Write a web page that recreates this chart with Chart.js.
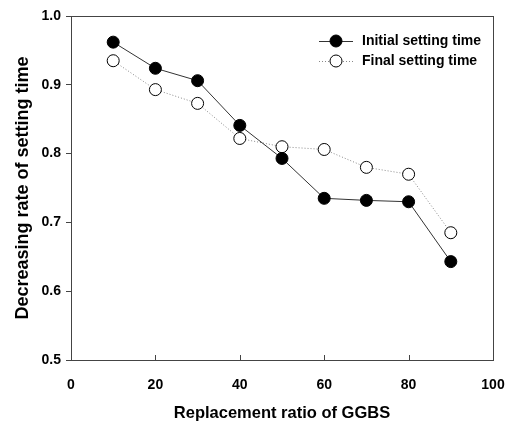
<!DOCTYPE html>
<html>
<head>
<meta charset="utf-8">
<script src="https://cdn.jsdelivr.net/npm/chart.js@4/dist/chart.umd.min.js"></script>
<style>
  html, body { margin: 0; padding: 0; background: #fff; }
  #wrap { width: 505px; height: 426px; position: relative; }
</style>
</head>
<body>
<div id="wrap"><canvas id="setChart"></canvas></div>
<script>
// data
const ratios = [10, 20, 30, 40, 50, 60, 70, 80, 90];
const initialTime = [0.962, 0.924, 0.906, 0.841, 0.793, 0.735, 0.732, 0.730, 0.643];
const finalTime = [0.935, 0.893, 0.873, 0.822, 0.810, 0.806, 0.780, 0.770, 0.685];
const xTicks = [0, 20, 40, 60, 80, 100];
const yTicks = [0.5, 0.6, 0.7, 0.8, 0.9, 1.0];

const FONT = '"Liberation Sans", Arial, sans-serif';

// frame on top/right, inward x ticks, and legend
const framePlugin = {
  id: 'frame',
  afterDraw(chart) {
    const { ctx, chartArea: a, scales } = chart;
    ctx.save();
    ctx.strokeStyle = '#444';
    ctx.lineWidth = 1;
    ctx.strokeRect(a.left + 0.5, a.top + 0.5, a.right - a.left, a.bottom - a.top);
    // x ticks pointing inward
    ctx.beginPath();
    xTicks.forEach(v => {
      const px = Math.round(scales.x.getPixelForValue(v)) + 0.5;
      ctx.moveTo(px, a.bottom);
      ctx.lineTo(px, a.bottom - 5);
    });
    ctx.stroke();

    // legend
    const items = [
      { ds: chart.data.datasets[0], y: 41 },
      { ds: chart.data.datasets[1], y: 61 }
    ];
    ctx.font = 'bold 14px ' + FONT;
    ctx.textBaseline = 'middle';
    items.forEach(it => {
      ctx.beginPath();
      ctx.strokeStyle = it.ds.borderColor;
      ctx.lineWidth = 1;
      ctx.setLineDash(it.ds.borderDash || []);
      ctx.moveTo(319, it.y + 0.5);
      ctx.lineTo(353, it.y + 0.5);
      ctx.stroke();
      ctx.setLineDash([]);
      ctx.beginPath();
      ctx.arc(336, it.y, 6, 0, Math.PI * 2);
      ctx.fillStyle = it.ds.pointBackgroundColor;
      ctx.fill();
      ctx.strokeStyle = '#000';
      ctx.stroke();
      ctx.fillStyle = '#000';
      ctx.fillText(it.ds.label, 362, it.y);
    });
    ctx.restore();
  }
};

const ctx = document.getElementById('setChart').getContext('2d');
new Chart(ctx, {
  type: 'line',
  data: {
    datasets: [{
      label: 'Initial setting time',
      data: ratios.map((r, i) => ({ x: r, y: initialTime[i] })),
      borderColor: '#333',
      borderWidth: 1,
      pointRadius: 6,
      pointBackgroundColor: '#000',
      pointBorderColor: '#000',
      pointBorderWidth: 1,
      tension: 0
    }, {
      label: 'Final setting time',
      data: ratios.map((r, i) => ({ x: r, y: finalTime[i] })),
      borderColor: '#888',
      borderWidth: 1,
      borderDash: [1, 2],
      pointRadius: 6,
      pointBackgroundColor: '#fff',
      pointBorderColor: '#000',
      pointBorderWidth: 1,
      tension: 0
    }]
  },
  options: {
    responsive: true,
    maintainAspectRatio: false,
    animation: false,
    layout: { padding: { top: 16, right: 12, left: 0, bottom: 0 } },
    plugins: {
      legend: { display: false },
      tooltip: { enabled: false }
    },
    scales: {
      x: {
        type: 'linear',
        min: 0,
        max: 100,
        afterBuildTicks: s => { s.ticks = xTicks.map(v => ({ value: v })); },
        grid: { display: false },
        border: { display: true, color: '#444' },
        ticks: {
          color: '#000',
          padding: 9,
          maxRotation: 0,
          font: { family: FONT, size: 14, weight: 'bold' }
        },
        title: {
          display: true,
          text: 'Replacement ratio of GGBS',
          color: '#000',
          padding: { top: 8, bottom: 3 },
          font: { family: FONT, size: 16.5, weight: 'bold' }
        },
        afterFit: s => { s.height = 66; s.paddingLeft = 0; s.paddingRight = 0; }
      },
      y: {
        min: 0.5,
        max: 1.0,
        afterBuildTicks: s => { s.ticks = yTicks.map(v => ({ value: v })); },
        grid: { drawOnChartArea: false, drawTicks: true, tickLength: 5, color: '#444' },
        border: { display: true, color: '#444' },
        ticks: {
          color: '#000',
          padding: 5,
          font: { family: FONT, size: 14, weight: 'bold' },
          callback: v => v.toFixed(1)
        },
        title: {
          display: true,
          text: 'Decreasing rate of setting time',
          color: '#000',
          padding: { top: 12, bottom: 0 },
          font: { family: FONT, size: 18, weight: 'bold' }
        },
        afterFit: s => { s.width = 71; s.paddingTop = 0; s.paddingBottom = 0; }
      }
    }
  },
  plugins: [framePlugin]
});
</script>
</body>
</html>
